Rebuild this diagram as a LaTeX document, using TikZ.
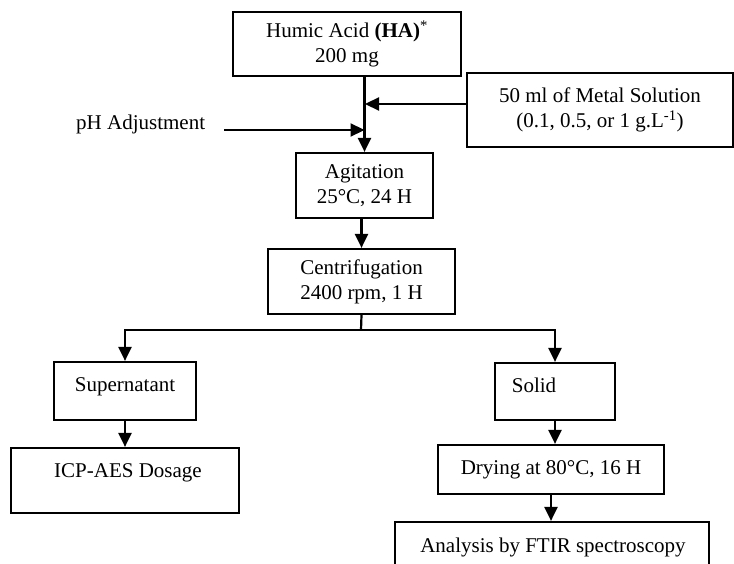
\documentclass[tikz,border=0pt]{standalone}
\usepackage{fontspec}
\setmainfont{Liberation Serif}
\usetikzlibrary{arrows.meta}
\tikzset{
  box/.style={draw, line width=2.2pt, inner sep=0pt, align=center},
  txt/.style={inner sep=0pt},
  arr/.style={line width=2.2pt, -{Triangle[length=14pt,width=13pt]}},
  ln/.style={line width=2.2pt}
}
\begin{document}
\begin{tikzpicture}[x=1pt, y=-1pt, font=\fontsize{21}{25}\selectfont]
                  \useasboundingbox (0,0) rectangle (734,564);
                  \clip (0,0) rectangle (734,564);

                  \node[box, minimum width=228pt, minimum height=64pt] (ha) at (347,44) {Humic Acid \textbf{(HA)}\textsuperscript{*}\\200 mg};
                  \node[box, minimum width=266pt, minimum height=74pt] (metal) at (600,110) {50 ml of Metal Solution\\(0.1, 0.5, or 1 g.L\textsuperscript{-1})};
                  \node[txt, anchor=base west] (ph) at (76,130) {pH Adjustment};
                  \node[box, minimum width=137pt, minimum height=65pt] (agit) at (364.5,185.5) {Agitation\\25°C, 24 H};
                  \node[box, minimum width=187pt, minimum height=65pt] (centr) at (361.5,281.5) {Centrifugation\\2400 rpm, 1 H};
                  \node[box, minimum width=142pt, minimum height=58pt] (sup) at (125,391) {};
                  \node[box, minimum width=120pt, minimum height=57pt] (solid) at (555,391.5) {};
                  \node[box, minimum width=228pt, minimum height=65pt] (icp) at (125,480.5) {};
                  \node[box, minimum width=226pt, minimum height=49pt] (dry) at (551,469.5) {Drying at 80°C, 16 H};
                  \node[box, minimum width=314pt, minimum height=58pt] (ftir) at (552,551) {};

                  \node[txt, anchor=base] (suptxt) at (125,391) {Supernatant};
                  \node[txt, anchor=base] (solidtxt) at (534,392) {Solid};
                  \node[txt, anchor=base] (icptxt) at (128,477) {ICP-AES Dosage};
                  \node[txt, anchor=base] (ftirtxt) at (553,552) {Analysis by FTIR spectroscopy};

                  \coordinate (mj) at (365,104);
                  \coordinate (split) at (361,330);

                  \draw[arr] (ha.south -| agit.north) -- (agit.north);
                  \draw[arr] (metal.west |- mj) -- (mj);
                  \draw[arr] ([xshift=19pt]ph.base east) -- (ph.base east -| agit.north);
                  \draw[arr] (agit.south -| centr.north) -- (centr.north);
                  \draw[ln] (centr.south) -- (split);
                  \draw[arr] (split) -| (sup.north);
                  \draw[arr] (split) -| (solid.north);
                  \draw[arr] (sup.south) -- (icp.north);
                  \draw[arr] (solid.south) -- (solid.south |- dry.north);
                  \draw[arr] (dry.south) -- (dry.south |- ftir.north);
                \end{tikzpicture}
\end{document}
